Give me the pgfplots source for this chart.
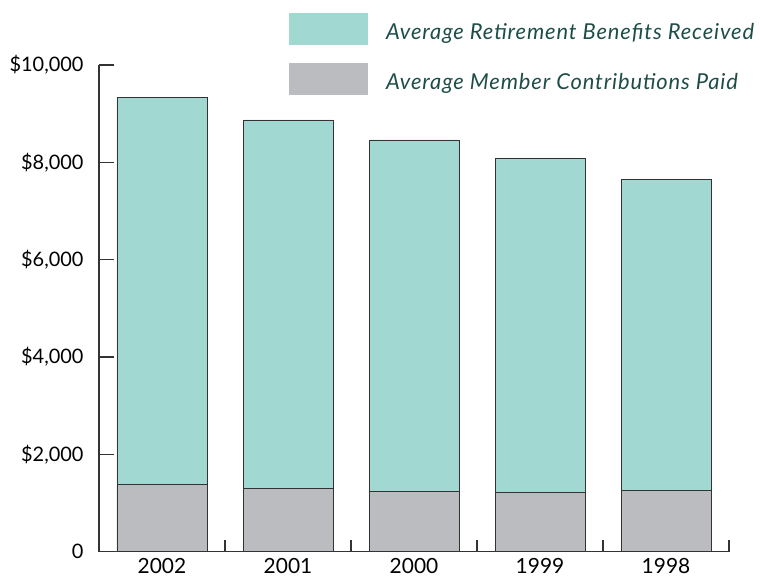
\documentclass[border=0pt]{standalone}
\usepackage{fontspec}
\setmainfont{Lato}
\newfontfamily\legfont[LetterSpace=4]{Lato}
\usepackage{pgfplots}
\pgfplotsset{compat=1.18}
\definecolor{benefit}{HTML}{A1D8D2}
\definecolor{contrib}{HTML}{BBBCC0}
\definecolor{legendtext}{HTML}{1E4D48}
\definecolor{axisgray}{HTML}{333333}

\pgfplotsset{
  boxlegend/.style={
    legend image code/.code={\fill[##1,draw=none] (0bp,-13bp) rectangle (79bp,19bp);}
  }
}

\begin{document}
\begin{tikzpicture}
\begin{axis}[
  scale only axis, width=630bp, height=486.7bp,
  xmin=-0.5, xmax=4.5, ymin=0, ymax=10000,
  axis lines*=left,
  axis line style={axisgray, line width=1.1bp},
  ybar, bar width=90bp,
  xtick={0,...,4},
  xticklabels={2002,2001,2000,1999,1998},
  minor xtick={0.5,1.5,2.5,3.5,4.5},
  major x tick style={draw=none},
  tick align=inside,
  major tick length=15bp, minor tick length=12bp,
  tick style={axisgray, line width=1.1bp},
  scaled y ticks=false,
  ytick={0,2000,4000,6000,8000,10000},
  yticklabels={{0},{\$2,000},{\$4,000},{\$6,000},{\$8,000},{\$10,000}},
  ticklabel style={text=black},
  yticklabel style={font=\fontsize{20}{24}\selectfont, xshift=-12bp},
  xticklabel style={font=\fontsize{21}{24}\selectfont, yshift=-3.5bp},
  legend style={at={(rel axis cs:0.3016,1.1069)}, anchor=north west,
    draw=none, fill=none, inner sep=0pt, outer sep=0pt,
    font=\legfont\itshape\fontsize{22}{26}\selectfont,
    text=legendtext, row sep=18bp,
    nodes={inner sep=0pt},
    /tikz/every odd column/.append style={column sep=18bp}},
  legend cell align=left,
  clip=false,
]
\coordinate (o) at (rel axis cs:0,0);
% benefits received (full height), contributions drawn in front
\addplot[bar shift=0pt, fill=benefit, draw=axisgray, line width=0.8bp, boxlegend]
  coordinates {(0,9336) (1,8870) (2,8459) (3,8089) (4,7652)};
\addplot[bar shift=0pt, fill=contrib, draw=axisgray, line width=0.8bp, boxlegend]
  coordinates {(0,1385) (1,1294) (2,1233) (3,1220) (4,1253)};
\legend{Average Retirement Benefits Received, Average Member Contributions Paid}
\end{axis}
\pgfresetboundingbox
\path ([shift={(-99bp,-27.3bp)}]o) rectangle ([shift={(661bp,551.7bp)}]o);
\end{tikzpicture}
\end{document}
